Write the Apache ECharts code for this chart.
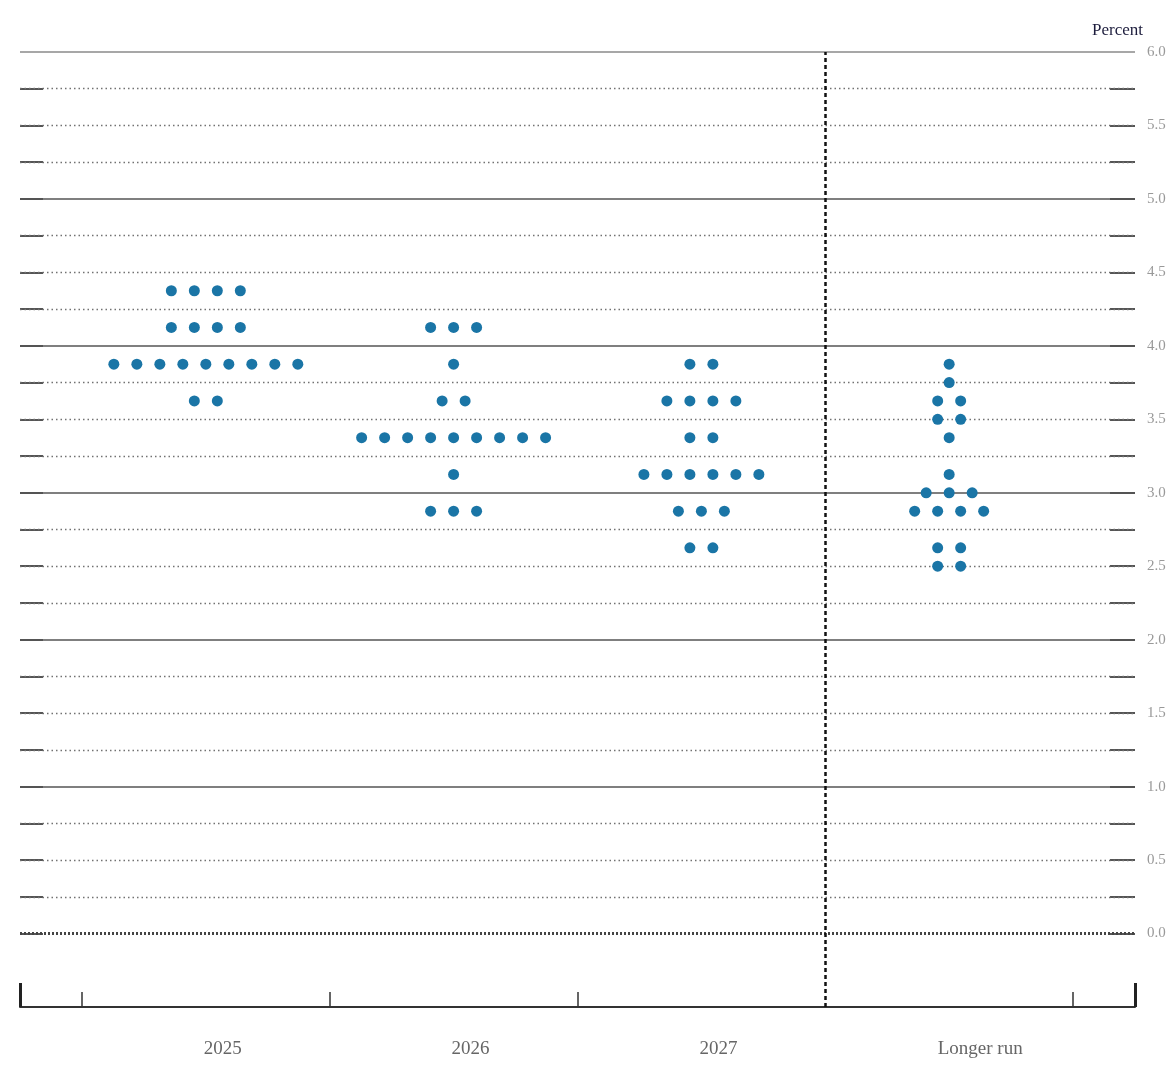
<!DOCTYPE html>
<html>
<head>
<meta charset="utf-8">
<script src="https://cdn.jsdelivr.net/npm/echarts@6/dist/echarts.min.js"></script>
<style>
html,body{margin:0;padding:0;background:#fff;}
#chart{width:1172px;height:1072px;}
</style>
</head>
<body>
<div id="chart"></div>
<script>
// Categories (x axis)
const categories = ['2025', '2026', '2027', 'Longer run'];

// Each row: [midpoint of target range (percent), number of participants]
const dots2025 = [[4.375, 4], [4.125, 4], [3.875, 9], [3.625, 2]];
const dots2026 = [[4.125, 3], [3.875, 1], [3.625, 2], [3.375, 9], [3.125, 1], [2.875, 3]];
const dots2027 = [[3.875, 2], [3.625, 4], [3.375, 2], [3.125, 6], [2.875, 3], [2.625, 2]];
const dotsLongerRun = [[3.875, 1], [3.75, 1], [3.625, 2], [3.5, 2], [3.375, 1], [3.125, 1], [3.0, 3], [2.875, 4], [2.625, 2], [2.5, 2]];

// Tick values
const yGridTicks = [0, 0.25, 0.5, 0.75, 1, 1.25, 1.5, 1.75, 2, 2.25, 2.5, 2.75, 3, 3.25, 3.5, 3.75, 4, 4.25, 4.5, 4.75, 5, 5.25, 5.5, 5.75, 6];
const yLabelTicks = [0, 0.5, 1, 1.5, 2, 2.5, 3, 3.5, 4, 4.5, 5, 5.5, 6];

const allDots = [dots2025, dots2026, dots2027, dotsLongerRun];
const dotSpacing = 0.0928; // horizontal gap between neighbouring dots, in category units

const scatterData = [];
allDots.forEach((rows, i) => {
  rows.forEach(([rate, count]) => {
    for (let j = 0; j < count; j++) {
      scatterData.push([i + 0.5 + (j - (count - 1) / 2) * dotSpacing, rate]);
    }
  });
});

const endTicks = yGridTicks.filter(v => v < 6);

const gridLines = yGridTicks.map(v => {
  let ls;
  if (v === 0) ls = {type: [2, 2], width: 3, color: '#444'};
  else if (v === 6) ls = {type: 'solid', width: 1.5, color: '#8a8a8a'};
  else if (Number.isInteger(v)) ls = {type: 'solid', width: 1.6, color: '#555'};
  else ls = {type: [1.5, 3], width: 1.4, color: '#727272'};
  return {yAxis: v, lineStyle: ls};
});
gridLines.push({xAxis: 3, lineStyle: {type: [4, 3], width: 2.5, color: '#111'}});

const chart = echarts.init(document.getElementById('chart'));
chart.setOption({
  backgroundColor: '#fff',
  animation: false,
  grid: {left: 20, right: 37, top: 52, bottom: 65},
  graphic: [{
    type: 'text', right: 29, top: 22,
    style: {text: 'Percent', font: '17px "Liberation Serif"', fill: '#1c1c3c'}
  }],
  xAxis: [{
    type: 'value', min: -0.25, max: 4.25, position: 'bottom',
    axisLine: {show: true, onZero: false, lineStyle: {color: '#333', width: 2}},
    axisTick: {show: true, inside: true, length: 15, customValues: [0, 1, 2, 4], lineStyle: {color: '#333', width: 1.5}},
    splitLine: {show: false},
    axisLabel: {
      customValues: [0.5, 1.5, 2.5, 3.5],
      margin: 33,
      formatter: v => {
        const name = categories[Math.floor(v)];
        return name === 'Longer run' ? '{l|' + name + '}' : '{c|' + name + '}';
      },
      rich: {
        c: {padding: [0, 0, 0, 34], fontFamily: 'Liberation Serif', fontSize: 19, color: '#666'},
        l: {padding: [0, 0, 0, 62], fontFamily: 'Liberation Serif', fontSize: 19, color: '#666'}
      }
    }
  }, {
    type: 'value', min: -0.25, max: 4.25, position: 'bottom',
    axisLine: {show: false, onZero: false},
    axisTick: {show: true, inside: true, length: 24, customValues: [-0.25, 4.25], lineStyle: {color: '#222', width: 3}},
    axisLabel: {show: false},
    splitLine: {show: false}
  }],
  yAxis: [{
    type: 'value', min: -0.5, max: 6, interval: 0.25, position: 'right',
    axisLine: {show: false, onZero: false},
    splitLine: {show: false},
    axisTick: {show: true, inside: true, length: 25, customValues: endTicks, lineStyle: {color: '#555', width: 2}},
    axisLabel: {
      customValues: yLabelTicks, margin: 12,
      formatter: v => v.toFixed(1),
      fontFamily: 'Liberation Serif', fontSize: 15, color: '#999'
    }
  }, {
    type: 'value', min: -0.5, max: 6, interval: 0.25, position: 'left',
    axisLine: {show: false, onZero: false},
    splitLine: {show: false},
    axisTick: {show: true, inside: true, length: 23, customValues: endTicks, lineStyle: {color: '#555', width: 2}},
    axisLabel: {show: false}
  }],
  series: [{
    type: 'line', data: [], z: 1, silent: true,
    markLine: {silent: true, symbol: ['none', 'none'], label: {show: false}, animation: false, data: gridLines}
  }, {
    type: 'scatter', z: 5, symbol: 'circle', symbolSize: 11,
    itemStyle: {color: '#1a75a6', opacity: 1},
    data: scatterData
  }]
});
</script>
</body>
</html>
